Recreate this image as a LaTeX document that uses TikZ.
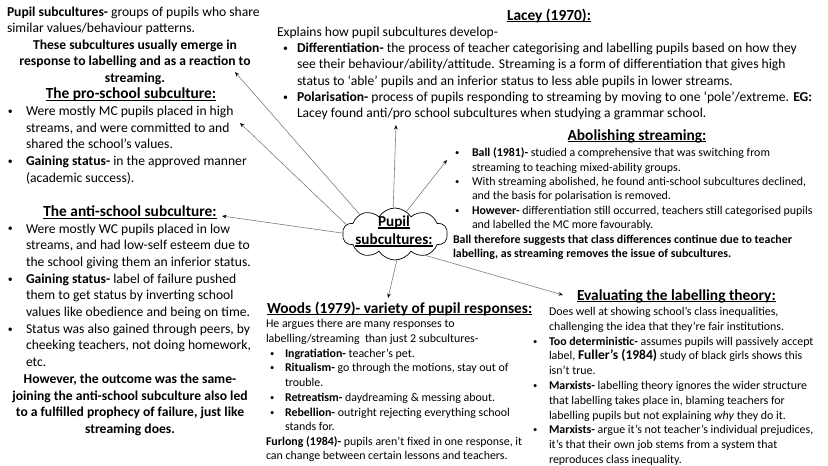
\documentclass[tikz,border=0pt]{standalone}
\usepackage{fontspec}
\setmainfont{Carlito}
\usetikzlibrary{shapes.symbols,arrows.meta}
\definecolor{linegray}{RGB}{125,125,125}
\newcommand\hdul[1]{\setbox0\hbox{#1}\rlap{\rule[-2.4pt]{\wd0}{1.1pt}}\box0}
\newcommand\bul{\raisebox{0.08em}{\scalebox{0.72}{\textbullet}}}
\newcommand\fL{\fontsize{13.6}{16.6}\selectfont}
\newcommand\fA{\fontsize{13.6}{16.7}\selectfont}
\newcommand\fH{\fontsize{15.4}{18}\selectfont\bfseries}
\newcommand\fLa{\fontsize{13.6}{16.3}\selectfont}
\newcommand\fR{\fontsize{11.9}{14.7}\selectfont}
\begin{document}
\begin{tikzpicture}[x=1pt,y=-1pt,
  txt/.style={inner sep=0pt, outer sep=0pt, text=black},
  arr/.style={draw=linegray, line width=0.6pt, -{Stealth[length=4.5pt,width=3.6pt,color=black]}},
  cloudbox/.style={cloud, draw=black, line width=0.7pt, fill=white, cloud puffs=10, cloud puff arc=115, aspect=2, minimum width=105pt, minimum height=52pt, inner sep=0pt}]
\useasboundingbox (0,0) rectangle (828,466);

% ---------- top-left ----------
\node[txt, anchor=base west, font=\fL] (def) at (7,16) {\begin{tabular}[t]{@{}l@{}}
\textbf{Pupil subcultures-} groups of pupils who share\\
similar values/behaviour patterns.\end{tabular}};
\node[txt, anchor=base, font=\fL\bfseries] (emerge) at (135,49.2) {\begin{tabular}[t]{@{}c@{}}
These subcultures usually emerge in\\
response to labelling and as a reaction to\\
streaming.\end{tabular}};
\node[txt, anchor=base, font=\fH] (prohead) at (131,98.5) {\hdul{The pro-school subculture:}};
\node[txt, anchor=base west, font=\fL] (prolist) at (8,115.6) {\begin{tabular}[t]{@{}p{18pt}@{}l@{}}
\bul & Were mostly MC pupils placed in high\\
& streams, and were committed to and\\
& shared the school’s values.\\
\bul & \textbf{Gaining status-} in the approved manner\\
& (academic success).\end{tabular}};

% ---------- anti-school ----------
\node[txt, anchor=base, font=\fH] (antihead) at (130,216.5) {\hdul{The anti-school subculture:}};
\node[txt, anchor=base west, font=\fA] (antilist) at (8,233) {\begin{tabular}[t]{@{}p{18pt}@{}l@{}}
\bul & Were mostly WC pupils placed in low\\
& streams, and had low-self esteem due to\\
& the school giving them an inferior status.\\
\bul & \textbf{Gaining status-} label of failure pushed\\
& them to get status by inverting school\\
& values like obedience and being on time.\\
\bul & Status was also gained through peers, by\\
& cheeking teachers, not doing homework,\\
& etc.\end{tabular}};
\node[txt, anchor=base, font=\fA\bfseries] (however) at (130,383.3) {\begin{tabular}[t]{@{}c@{}}
However, the outcome was the same-\\
joining the anti-school subculture also led\\
to a fulfilled prophecy of failure, just like\\
streaming does.\end{tabular}};

% ---------- Lacey ----------
\node[txt, anchor=base, font=\fH] (laceyhead) at (549,20) {\hdul{Lacey (1970):}};
\node[txt, anchor=base west, font=\fLa] (explains) at (277,36.3) {Explains how pupil subcultures develop-};
\node[txt, anchor=base west, font=\fLa] (laceylist) at (283,52.6) {\begin{tabular}[t]{@{}p{14pt}@{}l@{}}
\bul & \textbf{Differentiation-} the process of teacher categorising and labelling pupils based on how they\\
& see their behaviour/ability/attitude. Streaming is a form of differentiation that gives high\\
& status to ‘able’ pupils and an inferior status to less able pupils in lower streams.\\
\bul & \textbf{Polarisation-} process of pupils responding to streaming by moving to one ‘pole’/extreme. \textbf{EG:}\\
& Lacey found anti/pro school subcultures when studying a grammar school.\end{tabular}};

% ---------- Abolishing streaming ----------
\node[txt, anchor=base, font=\fH] (abolhead) at (637,140) {\hdul{Abolishing streaming:}};
\node[txt, anchor=base west, font=\fontsize{11.9}{14.3}\selectfont] (abollist) at (455,156.8) {\begin{tabular}[t]{@{}p{17pt}@{}l@{}}
\bul & \textbf{Ball (1981)-} studied a comprehensive that was switching from\\
& streaming to teaching mixed-ability groups.\\
\bul & With streaming abolished, he found anti-school subcultures declined,\\
& and the basis for polarisation is removed.\\
\bul & \textbf{However-} differentiation still occurred, teachers still categorised pupils\\
& and labelled the MC more favourably.\end{tabular}};
\node[txt, anchor=base west, font=\fontsize{11.9}{13.5}\selectfont\bfseries] (ball) at (453,243.6) {\begin{tabular}[t]{@{}l@{}}
Ball therefore suggests that class differences continue due to teacher\\
labelling, as streaming removes the issue of subcultures.\end{tabular}};

% ---------- Woods ----------
\node[txt, anchor=base west, font=\fH] (woodshead) at (267,313) {\hdul{Woods (1979)- variety of pupil responses:}};
\node[txt, anchor=base west, font=\fR] (woodsintro) at (266,327.8) {\begin{tabular}[t]{@{}l@{}}
He argues there are many responses to\\
labelling/streaming \ than just 2 subcultures-\end{tabular}};
\node[txt, anchor=base west, font=\fR] (woodslist) at (270,357.2) {\begin{tabular}[t]{@{}p{15pt}@{}l@{}}
\bul & \textbf{Ingratiation-} teacher’s pet.\\
\bul & \textbf{Ritualism-} go through the motions, stay out of\\
& trouble.\\
\bul & \textbf{Retreatism-} daydreaming \& messing about.\\
\bul & \textbf{Rebellion-} outright rejecting everything school\\
& stands for.\end{tabular}};
\node[txt, anchor=base west, font=\fR] (furlong) at (266,445.2) {\begin{tabular}[t]{@{}l@{}}
\textbf{Furlong (1984)-} pupils aren’t fixed in one response, it\\
can change between certain lessons and teachers.\end{tabular}};

% ---------- Evaluating ----------
\node[txt, anchor=base west, font=\fH] (evalhead) at (577,300) {\hdul{Evaluating the labelling theory:}};
\node[txt, anchor=base west, font=\fontsize{11.9}{14.8}\selectfont] (evalintro) at (549,315.5) {\begin{tabular}[t]{@{}l@{}}
Does well at showing school’s class inequalities,\\
challenging the idea that they’re fair institutions.\end{tabular}};
\node[txt, anchor=base west, font=\fontsize{11.9}{14.8}\selectfont] (evallist) at (533,345.1) {\begin{tabular}[t]{@{}p{16pt}@{}l@{}}
\bul & \textbf{Too deterministic-} assumes pupils will passively accept\\
& label, {\fontsize{13.5}{14.8}\selectfont\bfseries Fuller’s (1984)} study of black girls shows this\\
& isn’t true.\\
\bul & \textbf{Marxists-} labelling theory ignores the wider structure\\
& that labelling takes place in, blaming teachers for\\
& labelling pupils but not explaining \textit{why} they do it.\\
\bul & \textbf{Marxists-} argue it’s not teacher’s individual prejudices,\\
& it’s that their own job stems from a system that\\
& reproduces class inequality.\end{tabular}};

% ---------- centre cloud ----------
\node[cloudbox] (cloud) at (395,234) {};
\node[txt, align=center, font=\fontsize{15.2}{18}\selectfont\bfseries] (cloudtext) at (394,231) {\hdul{Pupil}\\\hdul{subcultures:}};

% arrow tips
\coordinate (t1) at (235,72);
\coordinate (t2) at (240,123);
\coordinate (t3) at (222,216);
\coordinate (t4) at (396,125);
\coordinate (t5) at (447,160);
\coordinate (t6) at (388,298);
\coordinate (t7) at (563,295);

\draw[arr] (cloud.151) -- (t1);
\draw[arr] (cloud.169) -- (t2);
\draw[arr] (cloud.179) -- (t3);
\draw[arr] (cloud.94) -- (t4);
\draw[arr] (cloud.63) -- (t5);
\draw[arr] (cloud.274) -- (t6);
\draw[arr] (cloud.325) -- (t7);
\end{tikzpicture}
\end{document}
